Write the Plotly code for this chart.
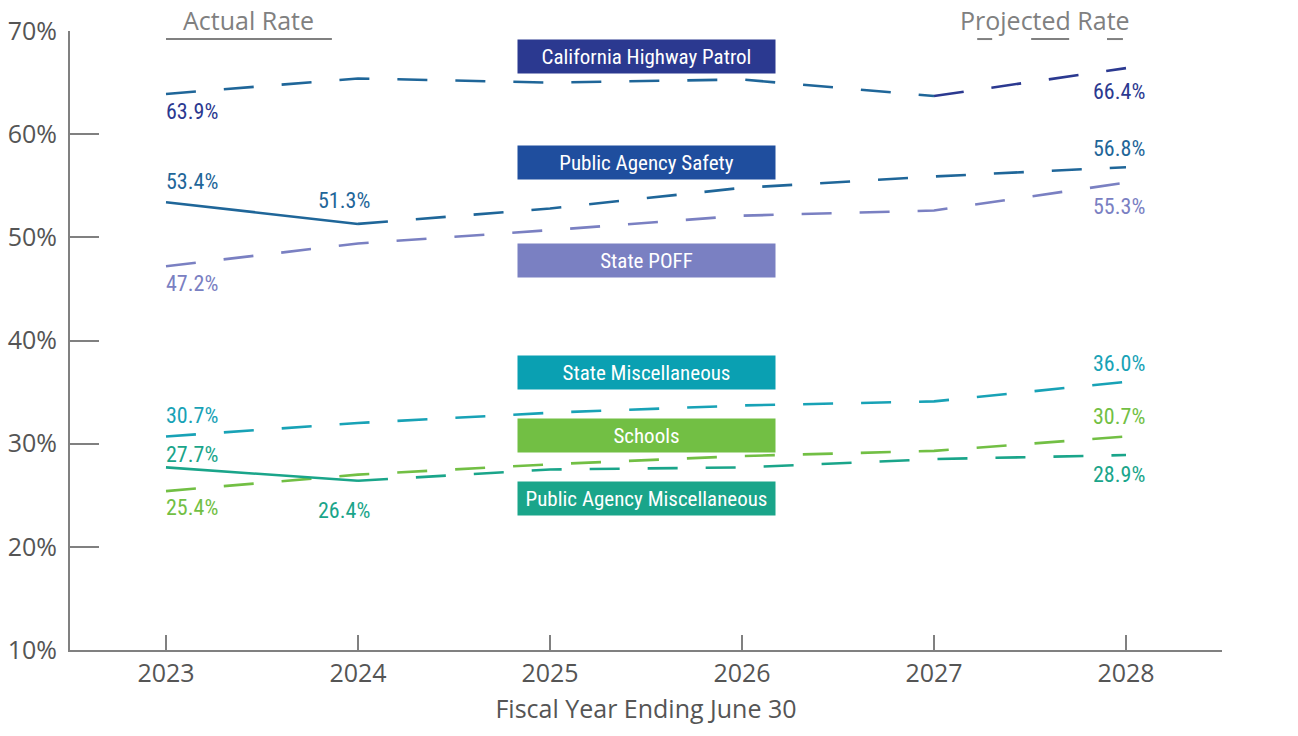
import plotly.graph_objects as go

years = [2023, 2024, 2025, 2026, 2027, 2028]
series_names = ["California Highway Patrol", "Public Agency Safety", "State POFF",
                "State Miscellaneous", "Schools", "Public Agency Miscellaneous"]
chp = [63.9, 65.4, 65.0, 65.3, 63.7, 66.4]
pa_safety = [53.4, 51.3, 52.8, 54.8, 55.9, 56.8]
state_poff = [47.2, 49.4, 50.7, 52.1, 52.6, 55.3]
state_misc = [30.7, 32.0, 33.0, 33.7, 34.1, 36.0]
schools = [25.4, 27.0, 28.0, 28.8, 29.3, 30.7]
pa_misc = [27.7, 26.4, 27.5, 27.7, 28.5, 28.9]
y_ticks = [10, 20, 30, 40, 50, 60, 70]

C_NAVY = "#2b3990"
C_STEEL = "#1f6699"
C_PAS_BOX = "#1f4e9e"
C_POFF = "#7a80c2"
C_SM = "#18a2b6"
C_SM_BOX = "#0aa0b2"
C_SCH = "#72bf44"
C_PAM = "#1aa58a"
GRAY = "#808080"
TXT = "#555555"
COND = "Roboto Condensed, sans-serif"
MAIN = "Open Sans, sans-serif"
DASH = "30px,28px"
W = 2.6

fig = go.Figure()

def add(x, y, color, dash=None):
    fig.add_trace(go.Scatter(x=x, y=y, mode="lines", showlegend=False, hoverinfo="skip",
                             line=dict(color=color, width=W, dash=dash or "solid")))

# California Highway Patrol (projected)
add(years[:5], chp[:5], C_STEEL, DASH)
add(years[4:], chp[4:], C_NAVY, DASH)
# Public Agency Safety
add(years[:2], pa_safety[:2], C_STEEL)
add(years[1:], pa_safety[1:], C_STEEL, DASH)
# State POFF
add(years, state_poff, C_POFF, DASH)
# State Misc
add(years, state_misc, C_SM, DASH)
# Schools
add(years, schools, C_SCH, DASH)
# Public Agency Misc
add(years[:2], pa_misc[:2], C_PAM)
add(years[1:], pa_misc[1:], C_PAM, DASH)

# value labels: (x index, series, color, yshift)
labels = [
    (0, chp, C_NAVY, -18), (5, chp, C_NAVY, -23),
    (0, pa_safety, C_STEEL, 21), (1, pa_safety, C_STEEL, 23), (5, pa_safety, C_STEEL, 19),
    (0, state_poff, C_POFF, -17), (5, state_poff, C_POFF, -24),
    (0, state_misc, C_SM, 21), (5, state_misc, C_SM, 18),
    (0, schools, C_SCH, -16), (5, schools, C_SCH, 20),
    (0, pa_misc, C_PAM, 13), (1, pa_misc, C_PAM, -30), (5, pa_misc, C_PAM, -19),
]
xshifts = {0: 26, 1: -14, 5: -7}
for i, s, col, ys in labels:
    fig.add_annotation(x=years[i], y=s[i], text=f"{s[i]:.1f}%", showarrow=False,
                       xanchor="center", yanchor="middle", xshift=xshifts[i], yshift=ys,
                       font=dict(family=COND, size=22, color=col))

# series name boxes
box_y = [67.5, 57.25, 47.75, 36.9, 30.8, 24.7]
box_colors = [C_NAVY, C_PAS_BOX, C_POFF, C_SM_BOX, C_SCH, C_PAM]
for name, by, bc in zip(series_names, box_y, box_colors):
    fig.add_annotation(x=2025.5, y=by, text=name, showarrow=False, xanchor="center",
                       yanchor="middle", width=257, height=33, bgcolor=bc, borderpad=0,
                       font=dict(family=COND, size=21, color="white"))

# header legend
fig.add_annotation(x=2023.43, y=1.018, yref="paper", text="Actual Rate", showarrow=False,
                   yanchor="middle", font=dict(family=MAIN, size=25, color=GRAY))
fig.add_annotation(x=2027.58, y=1.018, yref="paper", text="Projected Rate", showarrow=False,
                   yanchor="middle", font=dict(family=MAIN, size=25, color=GRAY))
fig.add_shape(type="line", xref="x", yref="paper", x0=2023.0, x1=2023.864, y0=0.987, y1=0.987,
              line=dict(color=GRAY, width=2))
for a, b in [(2027.225, 2027.303), (2027.506, 2027.704), (2027.901, 2027.984)]:
    fig.add_shape(type="line", xref="x", yref="paper", x0=a, x1=b, y0=0.987, y1=0.987,
                  line=dict(color=GRAY, width=2))

fig.update_layout(
    width=1298, height=736, plot_bgcolor="white", paper_bgcolor="white",
    margin=dict(l=70, r=76, t=31, b=86, autoexpand=False),
    xaxis=dict(range=[2022.5, 2028.5], tickvals=years, ticktext=[str(y) for y in years],
               automargin=False,
               showline=True, linecolor=GRAY, linewidth=2, ticks="inside", ticklen=15,
               tickcolor=GRAY, tickwidth=1.5, showgrid=False, zeroline=False,
               tickfont=dict(family=MAIN, size=25, color=TXT),
               title=dict(text="Fiscal Year Ending June 30", standoff=12,
                          font=dict(family=MAIN, size=25, color=TXT))),
    yaxis=dict(range=[10, 70], tickvals=y_ticks, ticktext=[f"{v}%" for v in y_ticks],
               automargin=False, ticklabelstandoff=6,
               showline=True, linecolor=GRAY, linewidth=2, ticks="inside", ticklen=29,
               tickcolor=GRAY, tickwidth=1.5, showgrid=False, zeroline=False,
               tickfont=dict(family=MAIN, size=25, color=TXT)),
)
fig.write_html("out.html", config={"displayModeBar": False},
               post_script="document.body.style.margin='0';")
